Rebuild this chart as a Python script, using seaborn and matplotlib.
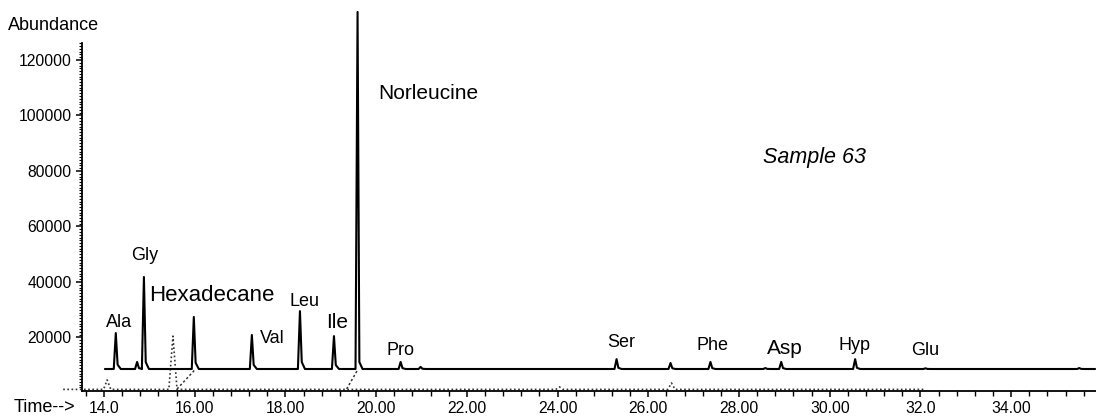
import numpy as np
import pandas as pd
import matplotlib
matplotlib.use("Agg")
import matplotlib.pyplot as plt
from matplotlib.ticker import MultipleLocator, FixedLocator
import seaborn as sns

# ---------------- data ----------------
# solid trace (Sample 63) : baseline and peak table (time in min, abundance)
solid_base = 8650
solid_start = 14.02
solid_end = 35.85
solid_peak_times = [14.26, 14.73, 14.88, 15.98, 17.26, 18.32, 19.07, 19.59,
                    20.54, 20.98, 25.30, 26.49, 27.37, 28.58, 28.93, 30.56,
                    32.11, 35.50]
solid_peak_heights = [21600, 11200, 41800, 27400, 20900, 29500, 20500, 137300,
                      11200, 9400, 12200, 10800, 11200, 9000, 11200, 12200,
                      8900, 9000]

# dotted trace (blank) : baseline and peak table
dotted_base = 1300
dotted_start = 13.10
dotted_end = 32.11
dotted_peak_times = [14.07, 15.52, 24.04, 26.51]
dotted_peak_heights = [4700, 20500, 2200, 3600]

# dotted connector segments between traces
connector_t0 = [15.61, 19.35]
connector_t1 = [16.00, 19.59]
connector_v0 = [1440, 1440]
connector_v1 = [8290, 8290]

# peak labels
label_names = ["Ala", "Gly", "Hexadecane", "Val", "Leu", "Ile", "Norleucine",
               "Pro", "Ser", "Phe", "Asp", "Hyp", "Glu"]

x_tick_values = [14, 16, 18, 20, 22, 24, 26, 28, 30, 32, 34]
x_tick_labels = ["14.0", "16.00", "18.00", "20.00", "22.00", "24.00", "26.00",
                 "28.00", "30.00", "32.0", "34.00"]
y_tick_values = [20000, 40000, 60000, 80000, 100000, 120000]
y_tick_labels = ["20000", "40000", "60000", "80000", "100000", "120000"]

# ---------------- layout / style ----------------
label_x = [14.33, 14.90, 16.38, 17.72, 18.41, 19.15, 21.16, 20.54, 25.41, 27.41,
           29.00, 30.54, 32.11]
label_y = [23800, 47900, 33100, 18000, 31300, 23400, 106000, 13700, 16600, 15500,
           14000, 15500, 13700]
label_sizes = [13, 13, 16, 13, 13, 15, 15, 13, 13, 13, 15, 13, 13]
rise_w = 0.045
tail_mid = 0.04
tail_w = 0.11
y_axis_top = 126000


def build_trace(start, end, base, times, heights):
    xs, ys = [start], [base]
    for t, h in zip(times, heights):
        xs += [t - rise_w, t, t + tail_mid, t + tail_w]
        ys += [base, h, base + min(0.12 * (h - base), 2500), base]
    xs.append(end)
    ys.append(base)
    return pd.DataFrame({"time": xs, "abundance": ys})


sns.set_theme(style="ticks")
plt.rcParams["font.family"] = ["Liberation Sans", "DejaVu Sans"]

fig = plt.figure(figsize=(10.96, 4.16), dpi=100)
ax = fig.add_axes([82 / 1096, (416 - 390.7) / 416, 1 - 82 / 1096, (390.7 - 10) / 416])

solid_df = build_trace(solid_start, solid_end, solid_base,
                       solid_peak_times, solid_peak_heights)
xs, ys = [dotted_start], [dotted_base]
for t, h in zip(dotted_peak_times, dotted_peak_heights):
    w = 0.09 if h > 10000 else 0.08
    xs += [t - w, t, t + w]
    ys += [dotted_base, h, dotted_base]
xs.append(dotted_end)
ys.append(dotted_base)
dotted_df = pd.DataFrame({"time": xs, "abundance": ys})

sns.lineplot(data=dotted_df, x="time", y="abundance", ax=ax, sort=False,
             estimator=None, color="#333333", lw=1.2, linestyle=(0, (1, 1.5)),
             clip_on=False, zorder=2)
for a0, a1, b0, b1 in zip(connector_t0, connector_t1, connector_v0, connector_v1):
    seg = pd.DataFrame({"time": [a0, a1], "abundance": [b0, b1]})
    sns.lineplot(data=seg, x="time", y="abundance", ax=ax, sort=False,
                 estimator=None, color="#333333", lw=1.1,
                 linestyle=(0, (1.5, 1.5)), zorder=2)
sns.lineplot(data=solid_df, x="time", y="abundance", ax=ax, sort=False,
             estimator=None, color="black", lw=1.5, clip_on=False, zorder=3)

ax.set_xlim(13.515, 35.87)
ax.set_ylim(830, 138000)
ax.spines["top"].set_visible(False)
ax.spines["right"].set_visible(False)
ax.spines["left"].set_bounds(830, y_axis_top)
for s in ("left", "bottom"):
    ax.spines[s].set_linewidth(1.3)
    ax.spines[s].set_color("black")

ax.xaxis.set_major_locator(FixedLocator(x_tick_values))
ax.set_xticklabels(x_tick_labels)
ax.xaxis.set_minor_locator(MultipleLocator(0.4))
ax.yaxis.set_major_locator(FixedLocator(y_tick_values))
ax.set_yticklabels(y_tick_labels)
ax.yaxis.set_minor_locator(FixedLocator(np.arange(2000, y_axis_top + 1, 1000)))
ax.tick_params(axis="both", which="major", labelsize=11.3, colors="black",
               length=4.5, width=1.1, pad=3)
ax.tick_params(axis="x", which="minor", length=3.5, width=1.0, color="black")
ax.tick_params(axis="y", which="minor", length=2, width=0.8, color="black")
ax.set_xlabel("")
ax.set_ylabel("")

for name, x, y, fs in zip(label_names, label_x, label_y, label_sizes):
    ax.text(x, y, name, fontsize=fs, ha="center", va="baseline", color="black")

ax.text(29.66, 82900, "Sample 63", fontsize=15.5, style="italic",
        ha="center", va="baseline", color="black")

fig.text(8 / 1096, 1 - 25 / 416, "Abundance", fontsize=13, ha="left",
         va="center", color="black")
fig.text(14 / 1096, 1 - 408 / 416, "Time-->", fontsize=13, ha="left",
         va="center", color="black")

fig.savefig("out.png", dpi=100)
